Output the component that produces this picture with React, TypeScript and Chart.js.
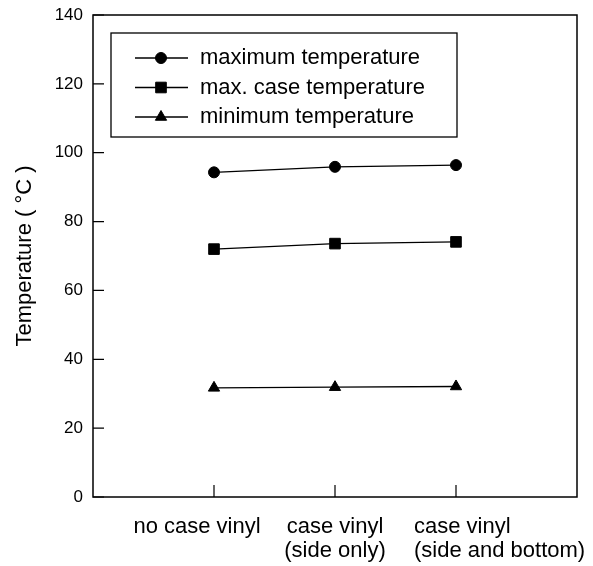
import React, { useEffect, useRef } from "react";
import { Chart, registerables } from "chart.js";
import { drawPoint } from "chart.js/helpers";

Chart.register(...registerables);

// ---- data ----
const categories: string[][] = [
  ["no case vinyl"],
  ["case vinyl", "(side only)"],
  ["case vinyl", "(side and bottom)"],
];
const categoryPositions = [1, 2, 3];
const maxTemperature = [94.3, 95.9, 96.4];
const maxCaseTemperature = [72.0, 73.6, 74.1];
const minTemperature = [31.7, 31.9, 32.1];
const seriesLabels = ["maximum temperature", "max. case temperature", "minimum temperature"];
const yTickValues = [0, 20, 40, 60, 80, 100, 120, 140];

// label placement relative to each category tick (styling only)
const labelPlacement = [
  { align: "center", dx: -17 },
  { align: "center", dx: 0 },
  { align: "left", dx: -42 },
];

const FONT = '"Liberation Sans", Arial, Helvetica, sans-serif';

const toPoints = (vals: number[]) => vals.map((v, i) => ({ x: categoryPositions[i], y: v }));

const framePlugin = {
  id: "frameTicksLegend",
  afterDraw(chart: any) {
    const { ctx, chartArea: a, scales } = chart;
    ctx.save();
    ctx.strokeStyle = "#000";
    ctx.fillStyle = "#000";
    // frame
    ctx.lineWidth = 1.5;
    ctx.strokeRect(a.left, a.top, a.right - a.left, a.bottom - a.top);
    // inward ticks
    ctx.lineWidth = 1.2;
    ctx.beginPath();
    for (const t of scales.y.ticks) {
      const y = scales.y.getPixelForValue(t.value);
      ctx.moveTo(a.left, y);
      ctx.lineTo(a.left + 11, y);
    }
    for (const v of categoryPositions) {
      const x = scales.x.getPixelForValue(v);
      ctx.moveTo(x, a.bottom);
      ctx.lineTo(x, a.bottom - 12);
    }
    ctx.stroke();
    // category labels
    ctx.font = `22px ${FONT}`;
    ctx.textBaseline = "middle";
    categories.forEach((lines, i) => {
      const p = labelPlacement[i];
      const x = scales.x.getPixelForValue(categoryPositions[i]) + p.dx;
      ctx.textAlign = p.align;
      lines.forEach((ln, j) => {
        ctx.fillText(ln, x, a.bottom + 30 + j * 24);
      });
    });
    // legend
    const bx = a.left + 18;
    const by = a.top + 18;
    const bw = 346;
    const bh = 104;
    ctx.lineWidth = 1.3;
    ctx.strokeRect(bx, by, bw, bh);
    ctx.font = `22px ${FONT}`;
    ctx.textBaseline = "middle";
    ctx.textAlign = "left";
    chart.data.datasets.forEach((ds: any, i: number) => {
      const cy = by + 25 + i * 29.5;
      ctx.lineWidth = 1.3;
      ctx.strokeStyle = "#000";
      ctx.beginPath();
      ctx.moveTo(bx + 24, cy);
      ctx.lineTo(bx + 77, cy);
      ctx.stroke();
      ctx.fillStyle = "#000";
      ctx.lineWidth = 1;
      drawPoint(ctx, { pointStyle: ds.pointStyle, radius: ds.pointRadius, rotation: 0, borderWidth: 1 }, bx + 50, cy);
      ctx.fillStyle = "#000";
      ctx.fillText(ds.label, bx + 89, cy);
    });
    ctx.restore();
  },
};

const zeroPad = (s: any) => {
  s.paddingTop = 0;
  s.paddingBottom = 0;
  s.paddingLeft = 0;
  s.paddingRight = 0;
};

export default function App() {
  const ref = useRef<HTMLCanvasElement | null>(null);
  useEffect(() => {
    document.body.style.margin = "0";
    const canvas = ref.current;
    if (!canvas) return;
    const common = {
      borderColor: "#000",
      backgroundColor: "#000",
      borderWidth: 1.3,
      pointBackgroundColor: "#000",
      pointBorderColor: "#000",
      pointBorderWidth: 1,
      showLine: true,
      fill: false,
    };
    const chart = new Chart(canvas, {
      type: "scatter",
      data: {
        datasets: [
          { ...common, label: seriesLabels[0], data: toPoints(maxTemperature), pointStyle: "circle", pointRadius: 5.5 },
          { ...common, label: seriesLabels[1], data: toPoints(maxCaseTemperature), pointStyle: "rect", pointRadius: 7.5 },
          { ...common, label: seriesLabels[2], data: toPoints(minTemperature), pointStyle: "triangle", pointRadius: 6.5 },
        ],
      },
      options: {
        responsive: false,
        animation: false,
        layout: { padding: { left: 0, top: 15, right: 16, bottom: 0 } },
        plugins: { legend: { display: false }, tooltip: { enabled: false } },
        scales: {
          x: {
            type: "linear",
            min: 0,
            max: 4,
            grid: { display: false, drawTicks: false },
            border: { display: false },
            ticks: { display: false },
            afterFit: (s: any) => {
              s.height = 69;
              zeroPad(s);
            },
          },
          y: {
            min: 0,
            max: 140,
            grid: { display: false, drawTicks: false },
            border: { display: false },
            afterFit: (s: any) => {
              s.width = 93;
              zeroPad(s);
            },
            afterBuildTicks: (s: any) => {
              s.ticks = yTickValues.map((v) => ({ value: v }));
            },
            ticks: {
              padding: 10,
              color: "#000",
              font: { family: FONT, size: 17 },
            },
            title: {
              display: true,
              text: "Temperature ( °C )",
              color: "#000",
              font: { family: FONT, size: 22 },
              padding: { top: 12, bottom: 0 },
            },
          },
        },
      },
      plugins: [framePlugin],
    } as any);
    return () => chart.destroy();
  }, []);
  return <canvas ref={ref} width={593} height={566} style={{ display: "block" }} />;
}
